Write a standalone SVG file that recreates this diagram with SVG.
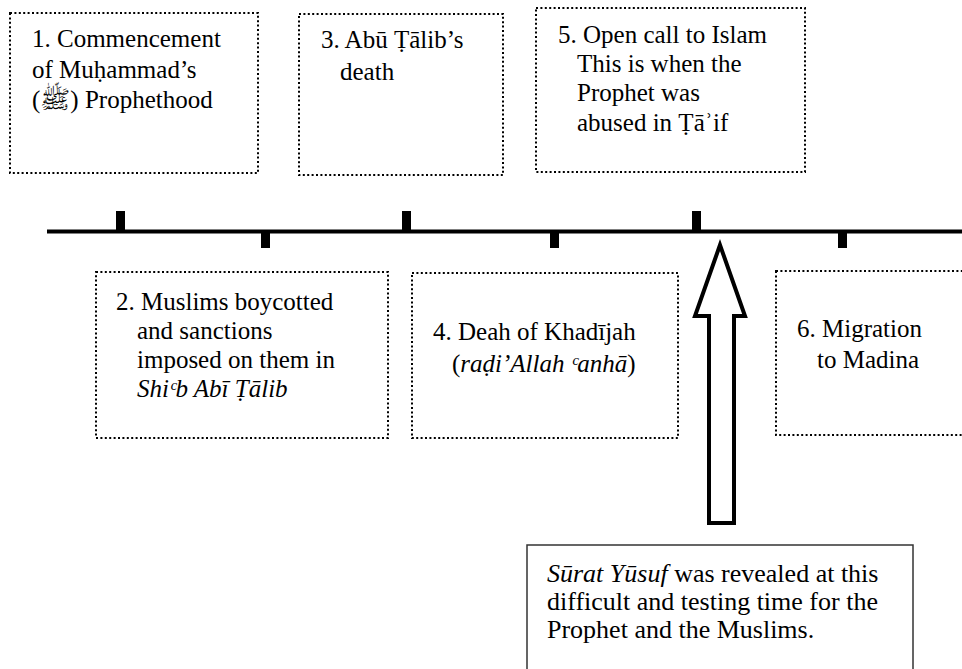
<svg xmlns="http://www.w3.org/2000/svg" width="962" height="669" viewBox="0 0 962 669">
<style>
.box{fill:none;stroke:#000;stroke-width:2;stroke-dasharray:2 2.4}
</style>
<rect width="962" height="669" fill="#fff"/>
<g id="connectors" fill="#000">
<line x1="47" y1="231.5" x2="962" y2="231.5" stroke="#000" stroke-width="4"/>
<rect x="116" y="211" width="9" height="20"/>
<rect x="402" y="211" width="9" height="20"/>
<rect x="692" y="211" width="9" height="20"/>
<rect x="261" y="232" width="9" height="16"/>
<rect x="550" y="232" width="9" height="16"/>
<rect x="838" y="232" width="9" height="16"/>
<polygon points="720,245 695,316 709,316 709,523 734,523 734,316 745,316" fill="#fff" stroke="#000" stroke-width="4" stroke-linejoin="miter"/>
</g>
<g id="node1">
<rect class="box" x="10" y="13" width="248" height="160"/>
<text x="32" y="47" font-family="Liberation Serif" font-size="25">1. Commencement</text>
<text x="32" y="77.5" font-family="Liberation Serif" font-size="25">of Muḥammad’s</text>
<text x="32" y="108" font-family="Liberation Serif" font-size="25">(ﷺ) Prophethood</text>
</g>
<g id="node2">
<rect class="box" x="96" y="272" width="292" height="166"/>
<text x="116" y="310" font-family="Liberation Serif" font-size="25">2. Muslims boycotted</text>
<text x="137" y="339" font-family="Liberation Serif" font-size="25">and sanctions</text>
<text x="137" y="368" font-family="Liberation Serif" font-size="25">imposed on them in</text>
<text x="137" y="397" font-family="Liberation Serif" font-size="25" font-style="italic">Shiᶜb Abī Ṭālib</text>
</g>
<g id="node3">
<rect class="box" x="299" y="14" width="204" height="161"/>
<text x="321" y="48" font-family="Liberation Serif" font-size="25">3. Abū Ṭālib’s</text>
<text x="340" y="80" font-family="Liberation Serif" font-size="25">death</text>
</g>
<g id="node4">
<rect class="box" x="412" y="273" width="266" height="165"/>
<text x="433" y="340" font-family="Liberation Serif" font-size="25">4. Deah of Khadījah</text>
<text x="452" y="372" font-family="Liberation Serif" font-size="25">(<tspan font-style="italic">raḍi’Allah ᶜanhā</tspan>)</text>
</g>
<g id="node5">
<rect class="box" x="536" y="8" width="269" height="164"/>
<text x="558" y="43" font-family="Liberation Serif" font-size="25">5. Open call to Islam</text>
<text x="577" y="72" font-family="Liberation Serif" font-size="25">This is when the</text>
<text x="577" y="101" font-family="Liberation Serif" font-size="25">Prophet was</text>
<text x="577" y="131" font-family="Liberation Serif" font-size="25">abused in Ṭāʾif</text>
</g>
<g id="node6">
<rect class="box" x="776" y="271" width="200" height="164"/>
<text x="797" y="337" font-family="Liberation Serif" font-size="25">6. Migration</text>
<text x="817" y="368" font-family="Liberation Serif" font-size="25">to Madina</text>
</g>
<g id="note">
<rect x="527" y="545" width="386" height="140" fill="none" stroke="#333" stroke-width="1.5"/>
<text x="547" y="582" font-family="Liberation Serif" font-size="26"><tspan font-style="italic">Sūrat Yūsuf</tspan> was revealed at this</text>
<text x="547" y="610" font-family="Liberation Serif" font-size="26">difficult and testing time for the</text>
<text x="547" y="638" font-family="Liberation Serif" font-size="26">Prophet and the Muslims.</text>
</g>
</svg>
